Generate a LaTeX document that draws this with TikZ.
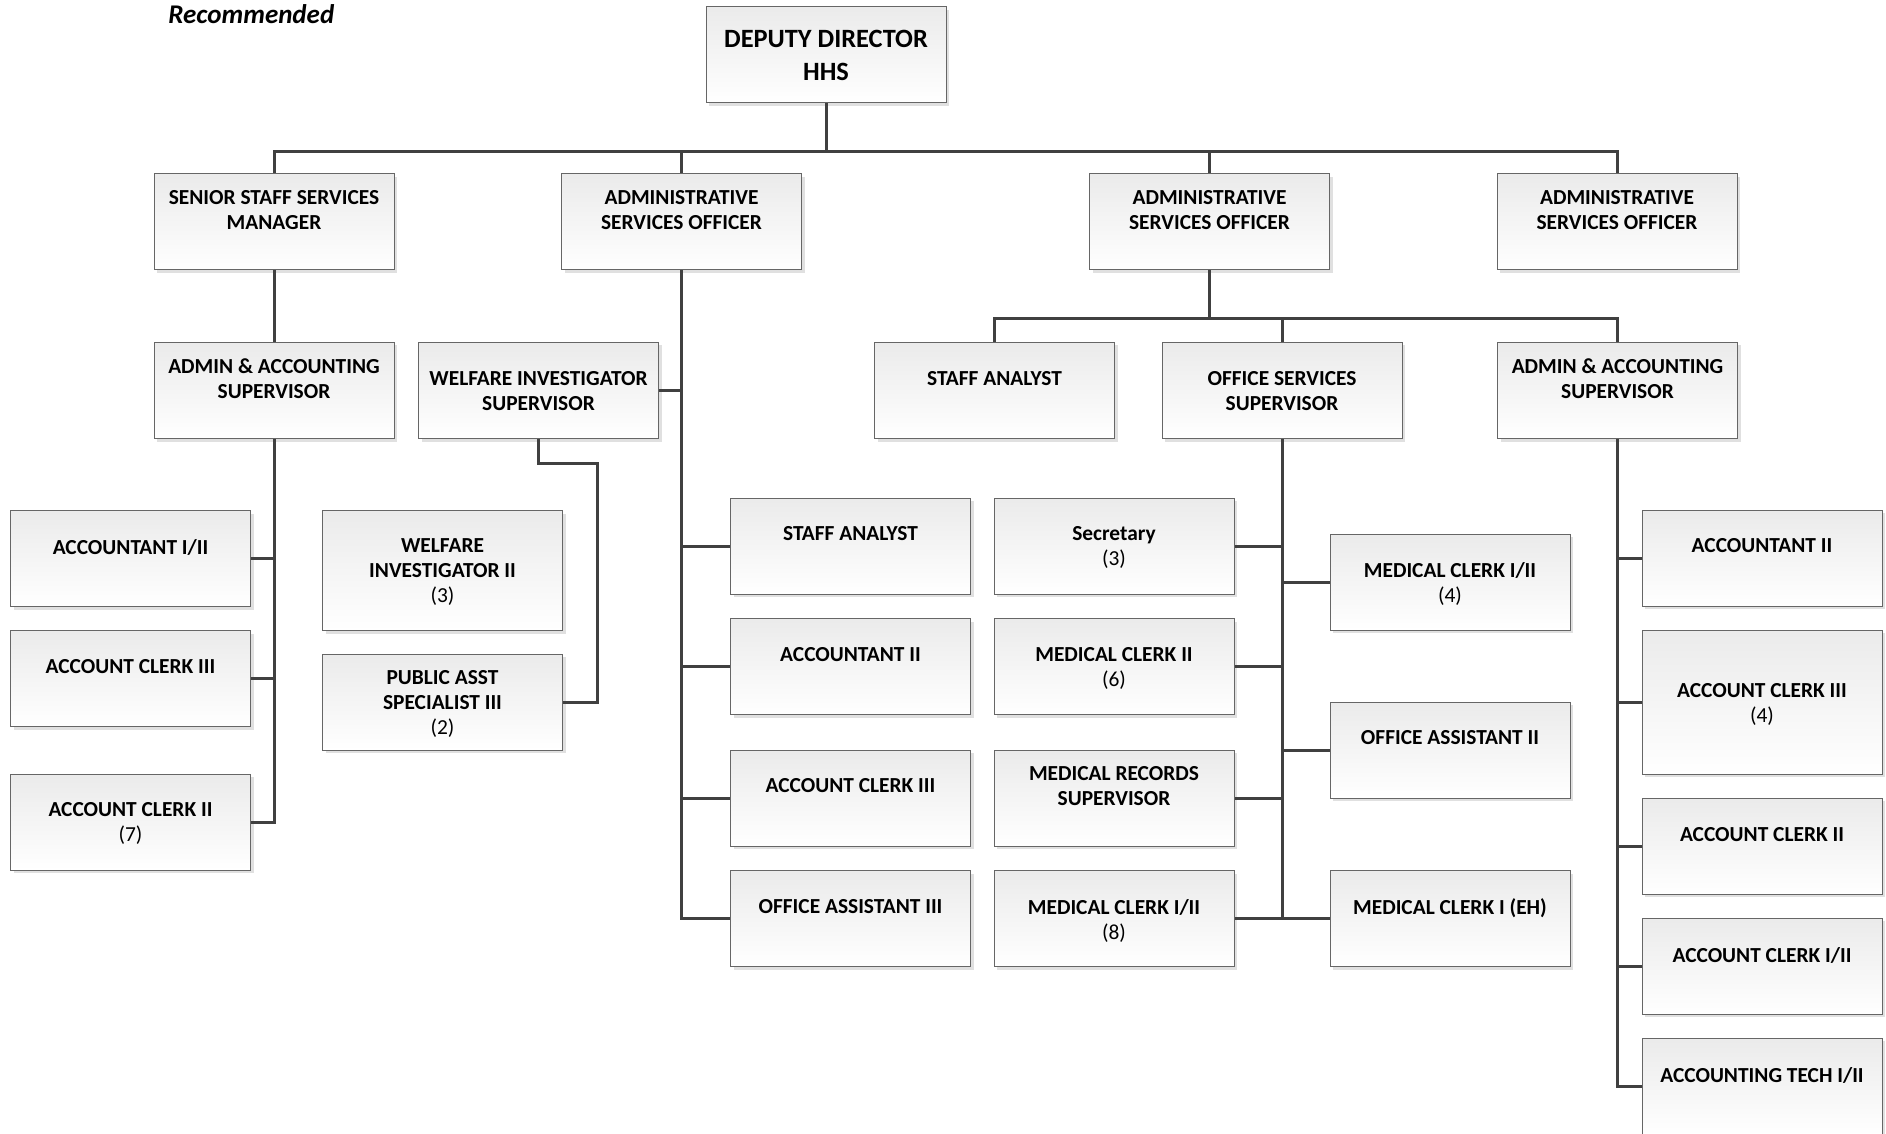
\documentclass[tikz,border=0pt]{standalone}
\usepackage{fontspec}
\setmainfont{Carlito}
\usetikzlibrary{positioning,shadows}

\begin{document}
\begin{tikzpicture}[
    x=0.5pt,y=-0.5pt,
    box/.style     = {rectangle,draw=black!60,line width=0.5pt,top color=black!8,bottom color=white,
                      minimum width=120pt,minimum height=48pt,inner sep=0pt,
                      drop shadow={shadow xshift=1.5pt,shadow yshift=-1.5pt,fill=black!12,opacity=1}},
    tall/.style    = {box,minimum height=60pt},
    taller/.style  = {box,minimum height=72pt},
    lbl/.style     = {font=\fontsize{10.7}{12.5}\selectfont\bfseries,align=center,inner sep=0pt},
    headlbl/.style = {lbl,font=\fontsize{13.2}{16.2}\selectfont\bfseries},
    link/.style    = {draw=black!75,line width=1.5pt},
  ]

  \useasboundingbox (0,0) rectangle (1886,1134);

  \node[font=\fontsize{13.5}{16}\selectfont\bfseries\itshape,anchor=base west,inner sep=0pt]
    (rec) at (168,23.5) {Recommended};

  % top of the chart
  \node[box] (dd)   at (826,55)     {};
  \node[box] (ssm)  at (274,222)    {};
  \node[box] (aso1) at (681.5,222)  {};
  \node[box] (aso2) at (1209.5,222) {};
  \node[box] (aso3) at (1617,222)   {};

  \node[box] (aas1) at (274,390.5)    {};
  \node[box] (wis)  at (538.5,390.5)  {};
  \node[box] (sa1)  at (994.5,390.5)  {};
  \node[box] (oss)  at (1282,390.5)   {};
  \node[box] (aas2) at (1617.5,390.5) {};

  % staff boxes
  \node[box]  (acc1)  at (130.5,558.5) {};
  \node[box]  (acl3)  at (130.5,678.5) {};
  \node[box]  (acl2)  at (130.5,822)   {};
  \node[tall] (wi2)   at (442.5,570.5) {};
  \node[box]  (pas3)  at (442.5,702)   {};

  \node[box]  (sa2)   at (850.5,546)   {};
  \node[box]  (acc2)  at (850.5,666.5) {};
  \node[box]  (acl3b) at (850.5,798)   {};
  \node[box]  (oa3)   at (850.5,918.5) {};

  \node[box]  (sec)   at (1114,546)    {};
  \node[box]  (mc2)   at (1114,666.5)  {};
  \node[box]  (mrs)   at (1114,798)    {};
  \node[box]  (mc12)  at (1114,918.5)  {};

  \node[box]  (mc12b) at (1450,582)    {};
  \node[box]  (oa2)   at (1450,750)    {};
  \node[box]  (mc1eh) at (1450,918.5)  {};

  \node[box]    (acc2b) at (1762,558)   {};
  \node[taller] (acl3c) at (1762,702.3) {};
  \node[box]    (acl2b) at (1762,846.4) {};
  \node[box]    (acl12) at (1762,966.4) {};
  \node[box]    (atech) at (1762,1086.4) {};

  % texts
  \node[headlbl,below=11.7pt of dd.north] (dd-t) {DEPUTY DIRECTOR\\HHS};
  \node[lbl,below=8.2pt of ssm.north]  (ssm-t)  {SENIOR STAFF SERVICES\\MANAGER};
  \node[lbl,below=8.2pt of aso1.north] (aso1-t) {ADMINISTRATIVE\\SERVICES OFFICER};
  \node[lbl,below=8.2pt of aso2.north] (aso2-t) {ADMINISTRATIVE\\SERVICES OFFICER};
  \node[lbl,below=8.2pt of aso3.north] (aso3-t) {ADMINISTRATIVE\\SERVICES OFFICER};

  \node[lbl,below=8.2pt of aas1.north]  (aas1-t) {ADMIN \& ACCOUNTING\\SUPERVISOR};
  \node[lbl,below=14.3pt of wis.north] (wis-t) {WELFARE INVESTIGATOR\\SUPERVISOR};
  \node[lbl,below=14.5pt of sa1.north] (sa1-t) {STAFF ANALYST};
  \node[lbl,below=14.3pt of oss.north] (oss-t) {OFFICE SERVICES\\SUPERVISOR};
  \node[lbl,below=8.2pt of aas2.north]  (aas2-t) {ADMIN \& ACCOUNTING\\SUPERVISOR};

  \node[lbl,below=14.5pt of acc1.north] (acc1-t) {ACCOUNTANT I/II};
  \node[lbl,below=14.5pt of acl3.north] (acl3-t) {ACCOUNT CLERK III};
  \node[lbl,below=14.3pt of acl2.north] (acl2-t) {ACCOUNT CLERK II\\{\mdseries(7)}};
  \node[lbl,below=14pt of wi2.north]    (wi2-t)  {WELFARE\\INVESTIGATOR II\\{\mdseries(3)}};
  \node[lbl,below=8.4pt of pas3.north]  (pas3-t) {PUBLIC ASST\\SPECIALIST III\\{\mdseries(2)}};

  \node[lbl,below=14.5pt of sa2.north]   (sa2-t)   {STAFF ANALYST};
  \node[lbl,below=14.5pt of acc2.north]  (acc2-t)  {ACCOUNTANT II};
  \node[lbl,below=14.5pt of acl3b.north] (acl3b-t) {ACCOUNT CLERK III};
  \node[lbl,below=14.5pt of oa3.north]   (oa3-t)   {OFFICE ASSISTANT III};

  \node[lbl,below=14.3pt of sec.north]  (sec-t)  {Secretary\\{\mdseries(3)}};
  \node[lbl,below=14.3pt of mc2.north]  (mc2-t)  {MEDICAL CLERK II\\{\mdseries(6)}};
  \node[lbl,below=8.2pt of mrs.north]   (mrs-t)  {MEDICAL RECORDS\\SUPERVISOR};
  \node[lbl,below=14.3pt of mc12.north] (mc12-t) {MEDICAL CLERK I/II\\{\mdseries(8)}};

  \node[lbl,below=14.3pt of mc12b.north] (mc12b-t) {MEDICAL CLERK I/II\\{\mdseries(4)}};
  \node[lbl,below=14.5pt of oa2.north]   (oa2-t)   {OFFICE ASSISTANT II};
  \node[lbl,below=14.3pt of mc1eh.north] (mc1eh-t) {MEDICAL CLERK I (EH)};

  \node[lbl,below=14.5pt of acc2b.north] (acc2b-t) {ACCOUNTANT II};
  \node[lbl,below=26.7pt of acl3c.north] (acl3c-t) {ACCOUNT CLERK III\\{\mdseries(4)}};
  \node[lbl,below=14.5pt of acl2b.north] (acl2b-t) {ACCOUNT CLERK II};
  \node[lbl,below=14.5pt of acl12.north] (acl12-t) {ACCOUNT CLERK I/II};
  \node[lbl,below=14.5pt of atech.north] (atech-t) {ACCOUNTING TECH I/II};

  % reporting lines
  \foreach \c in {ssm,aso1,aso2,aso3} \draw[link] (dd.south) -- ++(0,48) -| (\c.north);
  \foreach \c in {sa1,oss,aas2} \draw[link] (aso2.south) -- ++(0,48.5) -| (\c.north);
  \draw[link] (ssm) -- (aas1);
  \foreach \c in {acc1,acl3,acl2} \draw[link] (aas1.south) |- (\c.east);
  \draw[link] (aso1.south) |- (wis.east);
  \foreach \c in {sa2,acc2,acl3b,oa3} \draw[link] (aso1.south) |- (\c.west);
  \draw[link] (wis.south) -- ++(0,24) -| ([xshift=17pt]pas3.east) -- (pas3.east);
  \foreach \c in {sec,mc2,mrs,mc12} \draw[link] (oss.south) |- (\c.east);
  \foreach \c in {mc12b,oa2,mc1eh} \draw[link] (oss.south) |- (\c.west);
  \foreach \c in {acc2b,acl3c,acl2b,acl12,atech} \draw[link] (aas2.south) |- (\c.west);

\end{tikzpicture}
\end{document}
